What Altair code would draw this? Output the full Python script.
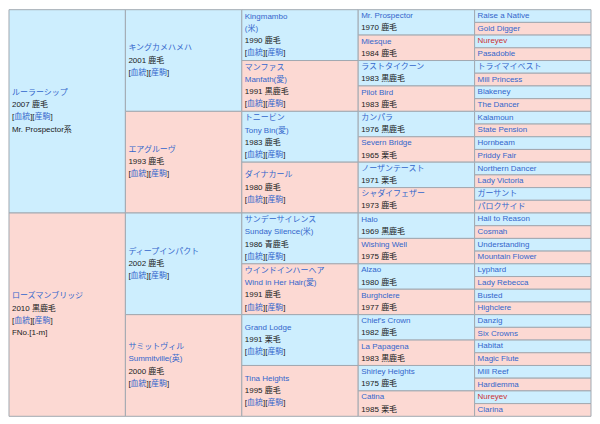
import altair as alt
import pandas as pd

FS = 8
FONT = "Liberation Sans, Arial, Noto Sans CJK JP, sans-serif"
LINK = "#3366cc"
TEXT = "#202122"
RED = "#cc3333"
BLUE_BG = "#cdeefe"
PINK_BG = "#fcd9d3"
BORDER = "#a2a9b1"

# ---- data ----
gen1_names = [["ルーラーシップ"], ["ローズマンブリッジ"]]
gen1_years = ["2007 鹿毛", "2010 黒鹿毛"]
gen1_extra = ["Mr. Prospector系", "FNo.[1-m]"]

gen2_names = [["キングカメハメハ"], ["エアグルーヴ"], ["ディープインパクト"],
              ["サミットヴィル", "Summitville(英)"]]
gen2_years = ["2001 鹿毛", "1993 鹿毛", "2002 鹿毛", "2000 鹿毛"]

gen3_names = [["Kingmambo", "(米)"], ["マンファス", "Manfath(愛)"],
              ["トニービン", "Tony Bin(愛)"], ["ダイナカール"],
              ["サンデーサイレンス", "Sunday Silence(米)"],
              ["ウインドインハーヘア", "Wind in Her Hair(愛)"],
              ["Grand Lodge"], ["Tina Heights"]]
gen3_years = ["1990 鹿毛", "1991 黒鹿毛", "1983 鹿毛", "1980 鹿毛",
              "1986 青鹿毛", "1991 鹿毛", "1991 栗毛", "1995 鹿毛"]

gen4_names = [["Mr. Prospector"], ["Miesque"], ["ラストタイクーン"], ["Pilot Bird"],
              ["カンパラ"], ["Severn Bridge"], ["ノーザンテースト"], ["シャダイフェザー"],
              ["Halo"], ["Wishing Well"], ["Alzao"], ["Burghclere"],
              ["Chief's Crown"], ["La Papagena"], ["Shirley Heights"], ["Catina"]]
gen4_years = ["1970 鹿毛", "1984 鹿毛", "1983 黒鹿毛", "1983 鹿毛",
              "1976 黒鹿毛", "1965 栗毛", "1971 栗毛", "1973 鹿毛",
              "1969 黒鹿毛", "1975 鹿毛", "1980 鹿毛", "1977 鹿毛",
              "1982 鹿毛", "1983 黒鹿毛", "1975 鹿毛", "1985 栗毛"]

gen5_names = [["Raise a Native"], ["Gold Digger"], ["Nureyev"], ["Pasadoble"],
              ["トライマイベスト"], ["Mill Princess"], ["Blakeney"], ["The Dancer"],
              ["Kalamoun"], ["State Pension"], ["Hornbeam"], ["Priddy Fair"],
              ["Northern Dancer"], ["Lady Victoria"], ["ガーサント"], ["パロクサイド"],
              ["Hail to Reason"], ["Cosmah"], ["Understanding"], ["Mountain Flower"],
              ["Lyphard"], ["Lady Rebecca"], ["Busted"], ["Highclere"],
              ["Danzig"], ["Six Crowns"], ["Habitat"], ["Magic Flute"],
              ["Mill Reef"], ["Hardiemma"], ["Nureyev"], ["Clarina"]]

inbred = ["Nureyev"]

BR = "[血統][産駒]"

gens = [
    (gen1_names, gen1_years, True, gen1_extra),
    (gen2_names, gen2_years, True, None),
    (gen3_names, gen3_years, True, None),
    (gen4_names, gen4_years, False, None),
    (gen5_names, None, False, None),
]

TOTAL = 32
LINE = 0.96

cells = []
lines = []
brs = []
for g, (names, years, br, extra) in enumerate(gens):
    n = len(names)
    span = TOTAL / n
    for i in range(n):
        r0 = i * span
        cells.append({"x": g, "x2": g + 1, "y": r0, "y2": r0 + span,
                      "bg": BLUE_BG if i % 2 == 0 else PINK_BG})
        items = []
        for nm in names[i]:
            items.append((nm, RED if nm in inbred else LINK, "L"))
        if years is not None:
            items.append((years[i], TEXT, "T"))
        if br:
            items.append((BR, TEXT, "B"))
        if extra is not None:
            items.append((extra[i], TEXT, "T"))
        c = r0 + span / 2
        m = len(items)
        for k, (t, col, kind) in enumerate(items):
            yy = c + (k - (m - 1) / 2) * LINE
            if kind == "B":
                brs.append({"x": g, "y": yy})
            else:
                lines.append({"x": g, "y": yy, "t": t, "c": col})

cells_df = pd.DataFrame(cells)
lines_df = pd.DataFrame(lines)
br_df = pd.DataFrame(brs)

xs = alt.Scale(domain=[0, 5], nice=False, zero=False)
ys = alt.Scale(domain=[0, TOTAL], nice=False, zero=False, reverse=True)

rects = alt.Chart(cells_df).mark_rect(stroke=BORDER, strokeWidth=1).encode(
    x=alt.X("x:Q", scale=xs, axis=None),
    x2="x2:Q",
    y=alt.Y("y:Q", scale=ys, axis=None),
    y2="y2:Q",
    color=alt.Color("bg:N", scale=None),
)

texts = alt.Chart(lines_df).mark_text(
    align="left", baseline="middle", dx=3, font=FONT, fontSize=FS
).encode(
    x=alt.X("x:Q", scale=xs, axis=None),
    y=alt.Y("y:Q", scale=ys, axis=None),
    text="t:N",
    color=alt.Color("c:N", scale=None),
)

bw = 0.278 * FS
cw = FS
pieces = [("[", TEXT, 0), ("血統", LINK, bw), ("][", TEXT, bw + 2 * cw),
          ("産駒", LINK, 3 * bw + 2 * cw), ("]", TEXT, 3 * bw + 4 * cw)]
br_layers = []
for t, col, off in pieces:
    br_layers.append(
        alt.Chart(br_df).mark_text(
            align="left", baseline="middle", dx=3 + off, font=FONT,
            fontSize=FS, color=col, text=t
        ).encode(
            x=alt.X("x:Q", scale=xs, axis=None),
            y=alt.Y("y:Q", scale=ys, axis=None),
        )
    )

chart = alt.layer(rects, texts, *br_layers).properties(
    width=584, height=408, padding=0
).configure_view(stroke=None)

chart.save("out.html", embed_options={"renderer": "svg", "actions": False})
